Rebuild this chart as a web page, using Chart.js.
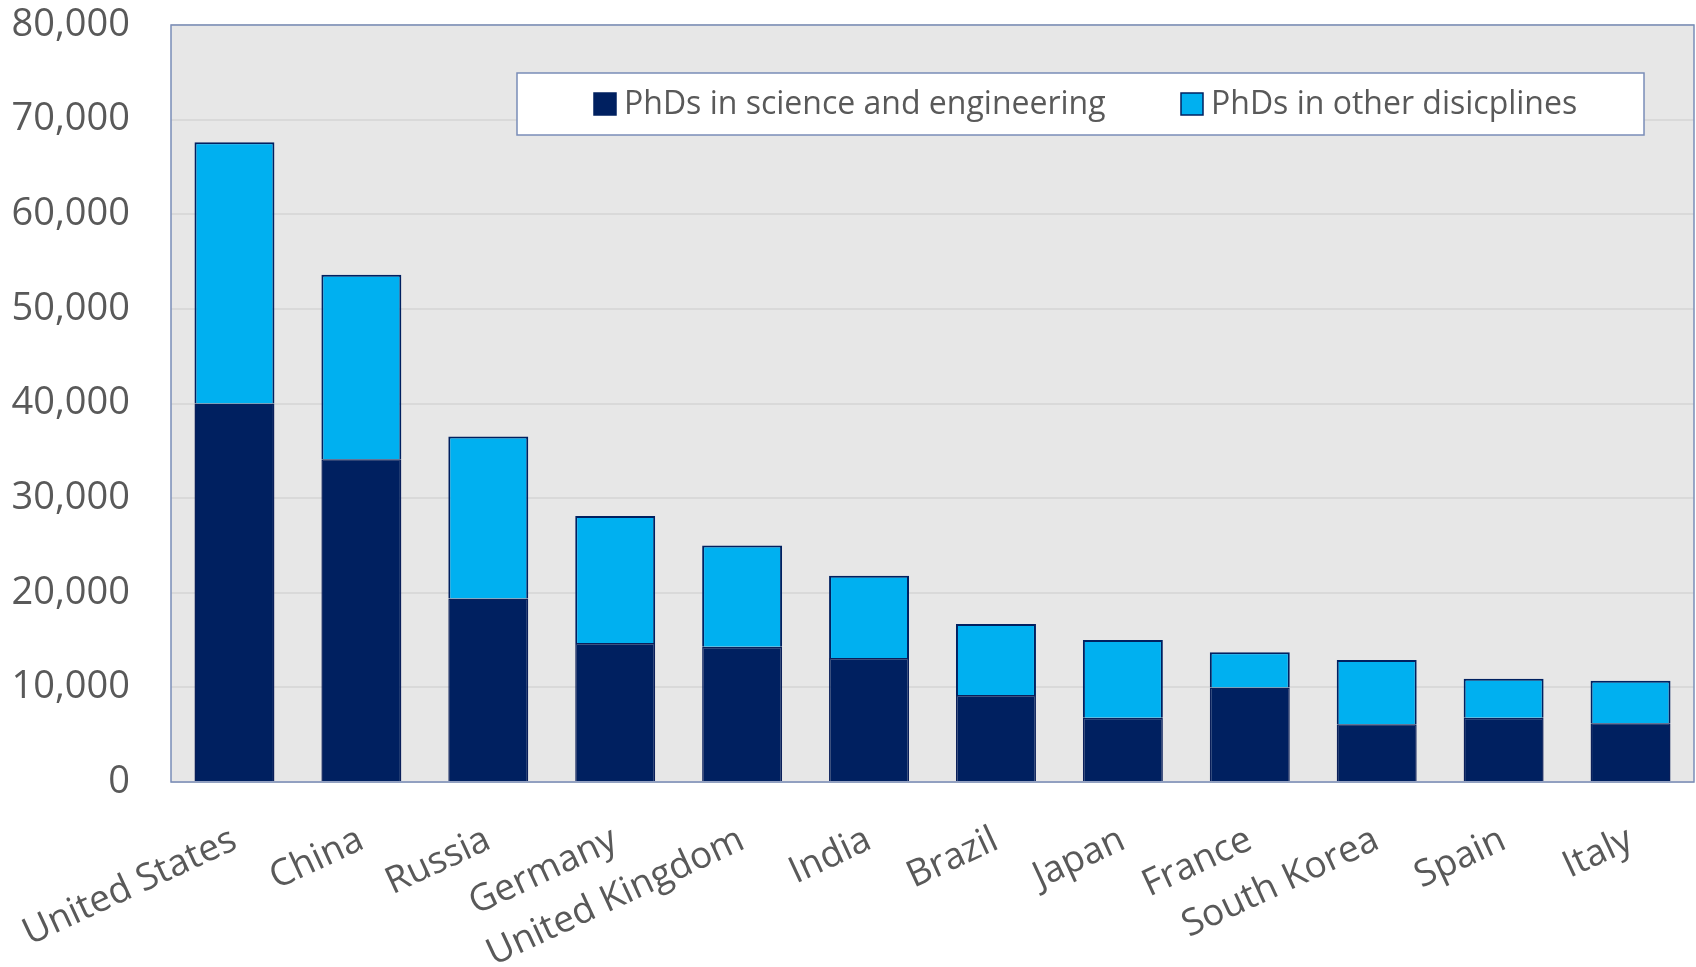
<!DOCTYPE html>
<html>
<head>
<meta charset="utf-8">
<title>PhDs awarded by country</title>
<script src="https://cdn.jsdelivr.net/npm/chart.js@4.4.1/dist/chart.umd.min.js"></script>
<style>
  html, body { margin: 0; padding: 0; background: #fff; }
  #wrap { width: 1696px; height: 967px; }
</style>
</head>
<body>
<div id="wrap"><canvas id="chart" width="1696" height="967"></canvas></div>
<script>
const countries = ["United States", "China", "Russia", "Germany", "United Kingdom", "India",
  "Brazil", "Japan", "France", "South Korea", "Spain", "Italy"];

// PhDs in science and engineering (bottom segment)
const sciEng = [40000, 34100, 19400, 14700, 14300, 13100, 9200, 6800, 10000, 6100, 6800, 6200];
// PhDs in all other disciplines (stacked on top)
const otherFields = [27600, 19500, 17100, 13400, 10700, 8700, 7500, 8200, 3700, 6800, 4100, 4500];

const yTicks = [0, 10000, 20000, 30000, 40000, 50000, 60000, 70000, 80000];

const FONT = "'Open Sans', 'Noto Sans', sans-serif";
const GREY_TEXT = "#595959";

// grey plot area plus a thin frame around it
const plotBackground = {
  id: "plotBackground",
  beforeDraw(chart) {
    const { ctx, chartArea: a } = chart;
    ctx.save();
    ctx.fillStyle = "#e7e7e7";
    ctx.fillRect(a.left, a.top, a.right - a.left, a.bottom - a.top);
    ctx.restore();
  },
  beforeDatasetsDraw(chart) {
    const { ctx, chartArea: a } = chart;
    ctx.save();
    ctx.strokeStyle = "#7a8db8";
    ctx.lineWidth = 1.5;
    ctx.strokeRect(a.left, a.top, a.right - a.left, a.bottom - a.top);
    ctx.restore();
  }
};

// boxed legend sitting inside the plot area
const boxedLegend = {
  id: "boxedLegend",
  afterDraw(chart) {
    const { ctx } = chart;
    ctx.save();
    ctx.fillStyle = "#ffffff";
    ctx.fillRect(517, 73, 1127, 62);
    ctx.strokeStyle = "#7a8db8";
    ctx.lineWidth = 1.5;
    ctx.strokeRect(517, 73, 1127, 62);

    const itemX = [594, 1181];
    const midY = 104;
    ctx.font = "32px " + FONT;
    ctx.textBaseline = "middle";
    ctx.textAlign = "left";
    chart.data.datasets.forEach((ds, i) => {
      const x = itemX[i];
      ctx.fillStyle = ds.backgroundColor;
      ctx.fillRect(x, midY - 11, 22, 22);
      ctx.strokeStyle = "#002060";
      ctx.lineWidth = 1.5;
      ctx.strokeRect(x, midY - 11, 22, 22);
      ctx.fillStyle = GREY_TEXT;
      ctx.fillText(ds.label, x + 30, midY + 1);
    });
    ctx.restore();
  }
};

new Chart(document.getElementById("chart"), {
  type: "bar",
  data: {
    labels: countries,
    datasets: [
      {
        label: "PhDs in science and engineering",
        data: sciEng,
        backgroundColor: "#002060",
        borderColor: "#0a1f5a",
        borderWidth: 1.5
      },
      {
        label: "PhDs in other disicplines",
        data: otherFields,
        backgroundColor: "#00b0f0",
        borderColor: "#002060",
        borderWidth: 2
      }
    ]
  },
  options: {
    responsive: false,
    animation: false,
    devicePixelRatio: 1,
    layout: { padding: { top: 25, right: 2, left: 0, bottom: 0 } },
    datasets: {
      bar: { barPercentage: 1, categoryPercentage: 0.63 }
    },
    plugins: {
      legend: { display: false },
      tooltip: { enabled: false }
    },
    scales: {
      x: {
        stacked: true,
        grid: { display: false, drawTicks: false },
        border: { display: false },
        ticks: {
          color: GREY_TEXT,
          font: { family: FONT, size: 37 },
          minRotation: 25,
          maxRotation: 25,
          padding: 36
        },
        afterFit(scale) {
          scale.height = 185;
          scale.paddingLeft = 0;
          scale.paddingRight = 0;
        }
      },
      y: {
        stacked: true,
        min: 0,
        max: 80000,
        afterBuildTicks(scale) { scale.ticks = yTicks.map(v => ({ value: v })); },
        grid: { color: "#d9d9d9", lineWidth: 2, drawTicks: false },
        border: { display: false },
        ticks: {
          color: GREY_TEXT,
          font: { family: FONT, size: 38 },
          padding: 41,
          callback: v => v.toLocaleString("en-US")
        },
        afterFit(scale) {
          scale.width = 171;
          scale.paddingTop = 0;
          scale.paddingBottom = 0;
        }
      }
    }
  },
  plugins: [plotBackground, boxedLegend]
});
</script>
</body>
</html>
